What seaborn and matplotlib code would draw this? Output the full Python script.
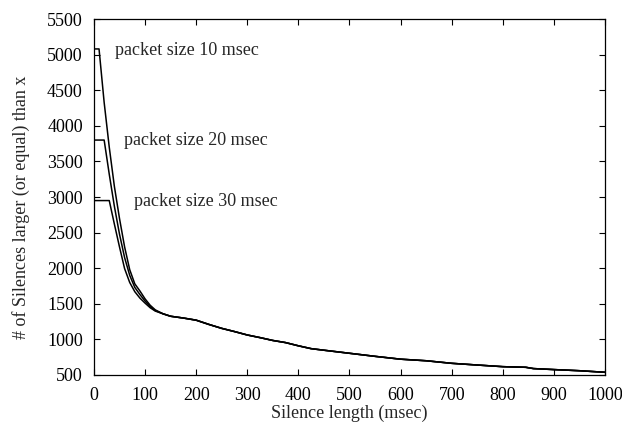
import numpy as np
import pandas as pd
import matplotlib
matplotlib.use("Agg")
import matplotlib.pyplot as plt
import seaborn as sns

# head of each curve (steep part)
ms_10 = [0, 10, 20, 30, 40, 50, 60, 70, 80, 90, 100, 110, 120]
count_10 = [5080, 5080, 4330, 3700, 3150, 2700, 2300, 1980, 1780, 1680, 1570, 1480, 1415]

ms_20 = [0, 20, 30, 40, 50, 60, 70, 80, 90, 100, 110, 120]
count_20 = [3800, 3800, 3320, 2870, 2480, 2150, 1900, 1730, 1630, 1540, 1460, 1405]

ms_30 = [0, 30, 40, 50, 60, 70, 80, 90, 100, 110, 120]
count_30 = [2950, 2950, 2620, 2300, 1995, 1800, 1670, 1580, 1510, 1445, 1398]

# common tail, the three curves nearly overlap here
tail_ms = [135, 150, 175, 200, 225, 250, 275, 300, 325, 350, 375, 400, 425, 450,
           500, 550, 600, 650, 700, 750, 800, 845, 860, 900, 950, 1000]
tail_count = [1360, 1325, 1300, 1270, 1210, 1155, 1110, 1062, 1025, 985, 955, 910, 870, 848,
              805, 762, 722, 700, 664, 640, 617, 608, 590, 576, 560, 538]

labels = ["packet size 10 msec", "packet size 20 msec", "packet size 30 msec"]
label_x = [41, 59, 78]
label_y = [5060, 3790, 2940]


def main():
    sns.set_style("ticks")
    plt.rcParams['font.family'] = ['Liberation Serif', 'DejaVu Serif']
    fs = 13

    fig = plt.figure(figsize=(6.22, 4.23), dpi=100)
    ax = fig.add_axes([0.151, 0.1135, 0.8217, 0.8415])

    curves = [(ms_10, count_10), (ms_20, count_20), (ms_30, count_30)]
    for xs, ys in curves:
        x_all = xs + tail_ms
        y_all = ys + tail_count
        sns.lineplot(x=x_all, y=y_all, color='black', linewidth=1.1, ax=ax,
                     sort=False, estimator=None)

    for txt, tx, ty in zip(labels, label_x, label_y):
        ax.text(tx, ty, txt, va='center', ha='left', fontsize=fs)

    ax.set_xlim(0, 1000)
    ax.set_ylim(500, 5500)
    ax.set_xticks(np.arange(0, 1001, 100))
    ax.set_yticks(np.arange(500, 5501, 500))
    ax.tick_params(direction='in', top=True, right=True, length=4, width=0.8,
                   labelsize=fs, colors='black')
    ax.tick_params(axis='y', pad=8)
    ax.tick_params(axis='x', pad=9)
    for s in ax.spines.values():
        s.set_linewidth(0.9)
        s.set_color('black')

    ax.set_xlabel("Silence length (msec)", fontsize=fs)
    ax.set_ylabel("# of Silences larger (or equal) than x", fontsize=fs)
    ax.xaxis.set_label_coords(0.5, -0.083)
    ax.yaxis.set_label_coords(-0.126, 0.47)

    fig.savefig("out.png", dpi=100)
    plt.close(fig)


if __name__ == "__main__":
    main()
